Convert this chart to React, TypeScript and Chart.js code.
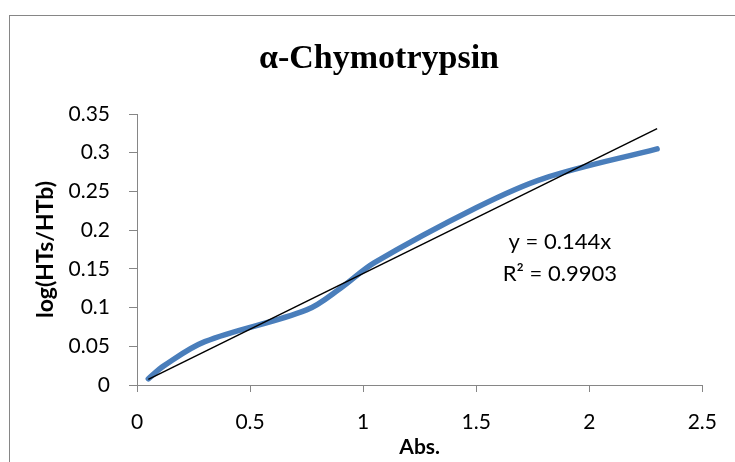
import React, { useEffect, useRef } from "react";
import { Chart, registerables } from "chart.js";

Chart.register(...registerables);

const chartTitle = "α-Chymotrypsin";
const xAxisTitle = "Abs.";
const yAxisTitle = "log(HTs/HTb)";

const absValues = [0.05, 0.12, 0.3, 0.75, 0.9, 1.05, 1.5, 1.8, 2.3];
const logRatio = [0.008, 0.025, 0.056, 0.097, 0.125, 0.158, 0.229, 0.267, 0.305];

const trendSlope = 0.144;
const trendR2 = "0.9903";
const trendRange = [0.05, 2.3];

const xTicks = [0, 0.5, 1, 1.5, 2, 2.5];
const yTicks = [0, 0.05, 0.1, 0.15, 0.2, 0.25, 0.3, 0.35];

const eqAnchor = { x: 1.87, y: 0.185 };

const fmt = (v: number) => String(Number(Number(v).toFixed(3)));

export default function App() {
  const ref = useRef<HTMLCanvasElement>(null);

  useEffect(() => {
    if (!ref.current) return;
    const overlay = {
      id: "overlay",
      beforeDraw(chart: any) {
        const ctx = chart.ctx;
        ctx.save();
        ctx.fillStyle = "#ffffff";
        ctx.fillRect(0, 0, chart.width, chart.height);
        ctx.strokeStyle = "#868686";
        ctx.lineWidth = 1;
        ctx.strokeRect(9.5, 15.5, 900, 600);
        ctx.restore();
      },
      afterDraw(chart: any) {
        const ctx = chart.ctx;
        ctx.save();
        ctx.fillStyle = "#000";
        ctx.textAlign = "center";
        ctx.textBaseline = "alphabetic";
        ctx.font = "bold 34px 'Liberation Serif', 'Times New Roman', serif";
        ctx.fillText(chartTitle, 379, 68);

        const xs = chart.scales.x;
        const ys = chart.scales.y;
        const ex = xs.getPixelForValue(eqAnchor.x);
        const ey = ys.getPixelForValue(eqAnchor.y);
        ctx.font = "22px Lato, 'Open Sans', sans-serif";
        ctx.textBaseline = "middle";
        ctx.fillText(`y = ${trendSlope}x`, ex, ey);
        ctx.fillText(`R² = ${trendR2}`, ex, ey + 32);
        ctx.restore();
      },
    };

    const chart = new Chart(ref.current, {
      type: "scatter",
      data: {
        datasets: [
          {
            label: "Linear",
            data: trendRange.map((x) => ({ x, y: trendSlope * x })),
            showLine: true,
            borderColor: "#000000",
            borderWidth: 1.5,
            pointRadius: 0,
            tension: 0,
          },
          {
            label: "log(HTs/HTb)",
            data: absValues.map((x, i) => ({ x, y: logRatio[i] })),
            showLine: true,
            borderColor: "#4A7EBB",
            borderWidth: 5.5,
            pointRadius: 0,
            tension: 0.35,
            borderCapStyle: "round",
            borderJoinStyle: "round",
          },
        ],
      } as any,
      options: {
        responsive: false,
        animation: false,
        devicePixelRatio: 1,
        layout: { padding: { left: 0, right: 32, top: 114, bottom: 0 } },
        plugins: {
          legend: { display: false },
          tooltip: { enabled: false },
          title: { display: false },
        },
        scales: {
          x: {
            type: "linear",
            min: 0,
            max: 2.5,
            afterBuildTicks: (s: any) => {
              s.ticks = xTicks.map((v) => ({ value: v }));
            },
            afterFit: (s: any) => {
              s.height = 77;
            },
            grid: { drawOnChartArea: false, drawTicks: true, tickLength: 7, color: "#868686" },
            border: { color: "#868686", width: 1 },
            ticks: {
              padding: 18,
              color: "#000",
              maxRotation: 0,
              font: { family: "Lato, 'Open Sans', sans-serif", size: 21 },
              callback: (v: any) => fmt(v),
            },
            title: {
              display: true,
              text: xAxisTitle,
              color: "#000",
              font: { family: "Lato, 'Open Sans', sans-serif", size: 21, weight: "bold" },
              padding: { top: 0, bottom: 2 },
            },
          },
          y: {
            type: "linear",
            min: 0,
            max: 0.35,
            afterBuildTicks: (s: any) => {
              s.ticks = yTicks.map((v) => ({ value: v }));
            },
            afterFit: (s: any) => {
              s.width = 137;
            },
            grid: { drawOnChartArea: false, drawTicks: true, tickLength: 8, color: "#868686" },
            border: { color: "#868686", width: 1 },
            ticks: {
              padding: 19,
              color: "#000",
              font: { family: "Lato, 'Open Sans', sans-serif", size: 21 },
              callback: (v: any) => fmt(v),
            },
            title: {
              display: true,
              text: yAxisTitle,
              color: "#000",
              font: { family: "Lato, 'Open Sans', sans-serif", size: 23, weight: "bold" },
              padding: { top: 32, bottom: 0 },
            },
          },
        },
      } as any,
      plugins: [overlay],
    });
    return () => chart.destroy();
  }, []);

  return (
    <div style={{ position: "absolute", left: 0, top: 0, width: 735, height: 462, background: "#fff", overflow: "hidden" }}>
      <canvas ref={ref} width={735} height={462} style={{ display: "block" }} />
    </div>
  );
}
